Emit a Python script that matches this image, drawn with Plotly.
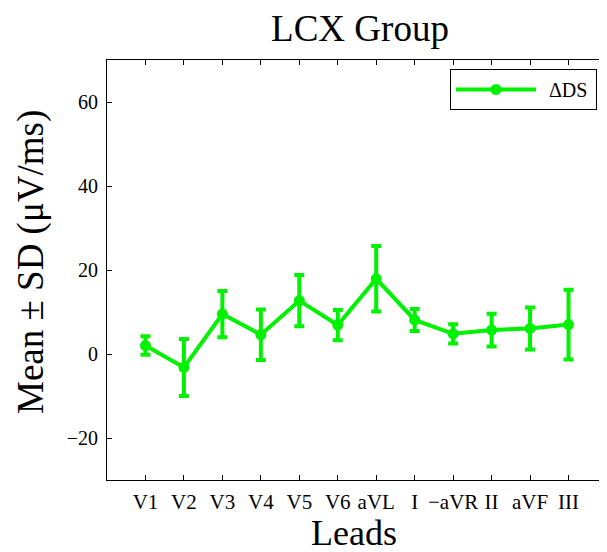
import plotly.graph_objects as go

leads = ["V1", "V2", "V3", "V4", "V5", "V6", "aVL", "I", "\u2212aVR", "II", "aVF", "III"]
mean_ds = [2.0, -3.2, 9.5, 4.6, 12.7, 6.9, 17.9, 8.1, 4.8, 5.7, 6.1, 7.0]
sd_ds = [2.2, 6.8, 5.5, 6.0, 6.1, 3.6, 7.8, 2.6, 2.3, 3.9, 5.0, 8.3]
x_pos = list(range(1, len(leads) + 1))
y_ticks = [-20, 0, 20, 40, 60]
series_name = "\u0394DS"

GREEN = "#00f200"
FONT = "Liberation Serif, DejaVu Serif, serif"

# page is rendered with an 8px body margin; figure coordinates below are page - 8
W, H = 599, 544
L, R, T, B = 99, 0, 52, 72
PW, PH = W - L - R, H - T - B

fig = go.Figure()
# legend entry keeps the line+marker sample; its label is drawn as an annotation
fig.add_trace(go.Scatter(
    x=x_pos, y=mean_ds, mode="lines+markers", name="\u00a0" * 10,
    line=dict(color=GREEN, width=4),
    marker=dict(color=GREEN, size=11),
    error_y=dict(type="data", array=sd_ds, visible=True, color=GREEN,
                 thickness=4, width=5),
))

axis_common = dict(
    showline=True, linecolor="black", linewidth=1, mirror="ticks",
    ticks="inside", ticklen=5, tickcolor="black", showgrid=False,
    zeroline=False,
)

fig.update_layout(
    width=W, height=H,
    margin=dict(l=L, r=R, t=T, b=B),
    paper_bgcolor="white", plot_bgcolor="white",
    font=dict(family=FONT, color="black"),
    title=dict(text="LCX Group", x=352 / W, xanchor="center",
               y=1 - 20 / H, yanchor="middle", yref="container",
               font=dict(family=FONT, size=37, color="black")),
    xaxis=dict(range=[0, 13], tickvals=x_pos, ticktext=leads,
               ticklabelstandoff=3,
               tickfont=dict(family=FONT, size=21, color="black"), **axis_common),
    yaxis=dict(range=[-30, 70], tickvals=y_ticks,
               ticktext=[("\u2212" + str(-v)) if v < 0 else str(v) for v in y_ticks],
               ticklabelstandoff=4,
               tickfont=dict(family=FONT, size=20, color="black"), **axis_common),
    showlegend=True,
    legend=dict(x=(589 - L) / PW, y=(PH + T - 61) / PH, xanchor="right", yanchor="top",
                bordercolor="black", borderwidth=1, bgcolor="rgba(0,0,0,0)",
                itemwidth=80, font=dict(family=FONT, size=20, color="black")),
    annotations=[
        dict(text=series_name, xref="paper", yref="paper",
             x=(539 - L) / PW, y=(PH + T - 82) / PH, xanchor="left", yanchor="middle",
             showarrow=False, font=dict(family=FONT, size=20, color="black")),
        dict(text="Mean \u00b1 SD (\u03bcV/ms)", textangle=-90, xref="paper", yref="paper",
             x=(23 - L) / PW, y=(PH + T - 254) / PH, xanchor="center", yanchor="middle",
             showarrow=False, font=dict(family=FONT, size=37, color="black")),
        dict(text="Leads", xref="paper", yref="paper",
             x=(346 - L) / PW, y=(PH + T - 525) / PH, xanchor="center", yanchor="middle",
             showarrow=False, font=dict(family=FONT, size=36, color="black")),
    ],
)

fig.write_html("out.html")
